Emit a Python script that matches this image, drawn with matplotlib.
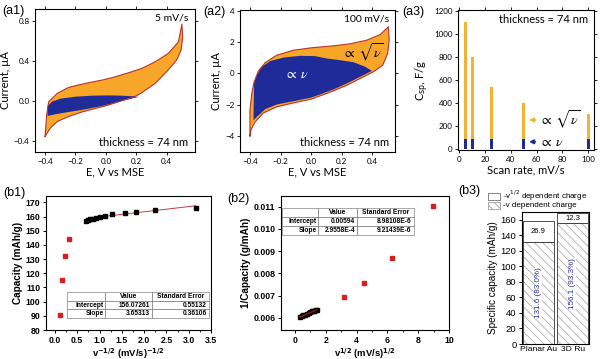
import numpy as np
import matplotlib
matplotlib.use("Agg")
import matplotlib.pyplot as plt
from matplotlib.patches import Rectangle

# ---- data ----

# (a1) CV at 5 mV/s: outer loop (upper then lower branch) and the blue region
a1_up_E = [-0.40, -0.388, -0.376, -0.32, -0.245, -0.136, -0.026, 0.04, 0.149, 0.236, 0.324, 0.41, 0.477, 0.50]
a1_up_I = [-0.355, -0.12, -0.007, 0.076, 0.136, 0.176, 0.209, 0.233, 0.282, 0.326, 0.392, 0.475, 0.591, 0.767]
a1_dn_E = [0.505, 0.495, 0.466, 0.41, 0.324, 0.236, 0.19, 0.105, 0.018, -0.07, -0.158, -0.245, -0.32, -0.365, -0.40]
a1_dn_I = [0.64, 0.51, 0.41, 0.31, 0.176, 0.083, 0.043, 0.003, -0.04, -0.075, -0.11, -0.155, -0.205, -0.27, -0.355]
a1_blue_E = [-0.383, -0.354, -0.30, -0.20, -0.092, 0.018, 0.105, 0.18, 0.214,
             0.149, 0.061, -0.026, -0.136, -0.245, -0.333, -0.383]
a1_blue_I = [-0.05, -0.007, 0.023, 0.043, 0.053, 0.056, 0.053, 0.047, 0.04,
             0.017, -0.017, -0.05, -0.083, -0.11, -0.133, -0.15]

# (a2) CV at 100 mV/s
a2_up_E = [-0.40, -0.40, -0.388, -0.373, -0.344, -0.30, -0.224, -0.115, 0.0, 0.146, 0.255, 0.364, 0.451, 0.505]
a2_up_I = [-4.0, -2.35, -1.28, -0.53, 0.17, 0.70, 1.17, 1.49, 1.64, 1.77, 1.90, 2.13, 2.49, 2.99]
a2_dn_E = [0.51, 0.50, 0.468, 0.407, 0.32, 0.233, 0.146, 0.059, 0.0, -0.115, -0.224, -0.312, -0.366, -0.394, -0.40]
a2_dn_I = [2.13, 1.28, 0.53, 0.11, -0.32, -0.75, -1.11, -1.43, -1.64, -1.88, -2.13, -2.52, -3.09, -3.62, -4.0]
a2_blue_E = [-0.377, -0.373, -0.355, -0.322, -0.268, -0.181, -0.072, 0.026, 0.102, 0.19, 0.277, 0.353, 0.397,
             0.32, 0.233, 0.146, 0.059, 0.0, -0.115, -0.224, -0.30, -0.355]
a2_blue_I = [-2.99, -0.64, -0.11, 0.43, 0.79, 1.02, 1.13, 1.11, 0.96, 0.85, 0.72, 0.43, 0.17,
             -0.21, -0.64, -1.02, -1.34, -1.54, -1.77, -1.98, -2.28, -2.77]

# (a3) specific capacitance vs scan rate
scan_rates = [5, 10, 25, 50, 100]
csp_total = [1100, 805, 540, 405, 310]
csp_nu = [90, 90, 90, 90, 90]

# (b1)/(b2) capacity vs scan rate (mV/s)
b_rates = np.array([0.1, 0.2, 0.3, 0.4, 0.6, 0.8, 1.0, 1.2, 1.4, 1.6, 1.8, 2.0, 10, 20, 40, 80])
b_capacity = np.array([166.0, 164.6, 163.4, 162.7, 161.5, 160.5, 159.8, 159.1, 158.6, 158.2, 157.7, 157.2,
                       144.0, 132.0, 115.0, 90.5])
b1_fit = [156.07261, 3.65313]
b2_fit = [0.00594, 2.9558e-4]
b1_table = [["Intercept", "156.07261", "0.55132"], ["Slope", "3.65313", "0.36106"]]
b2_table = [["Intercept", "0.00594", "8.98108E-6"], ["Slope", "2.9558E-4", "9.21439E-6"]]

# (b3) charge split
b3_names = ["Planar Au", "3D Ru"]
b3_nu = [131.6, 156.1]
b3_sqrt = [26.9, 12.3]
b3_pct = ["83.0%", "93.3%"]

ORANGE = '#F7A62A'
OUTLINE = '#B8332B'
BLUE = '#1E2B98'
A3_ORANGE = '#F2B233'
A3_BLUE = '#1F2E8C'
RED = '#D42020'
TXT_BLUE = '#2B2BA8'
FA = 'Lato'
FB = 'Liberation Sans'

plt.rcParams['font.family'] = [FB, 'DejaVu Sans']
plt.rcParams['hatch.linewidth'] = 0.5
fig = plt.figure(figsize=(6, 3.59), dpi=100)


def pos(l, t, r, b):
    return [l / 600, 1 - b / 359, (r - l) / 600, (b - t) / 359]


def style_a(ax):
    ax.tick_params(direction='out', length=2.5, width=0.6, labelsize=5.8, labelfontfamily=FA,
                   top=True, right=True, pad=1.5)
    for s in ax.spines.values():
        s.set_linewidth(0.8)


def style_b(ax):
    ax.tick_params(direction='out', length=2.5, width=0.7, pad=1.5)
    ax.tick_params(which='minor', direction='out', length=1.5, width=0.6)
    for s in ax.spines.values():
        s.set_linewidth(0.8)


def cv_panel(box, up_E, up_I, dn_E, dn_I, bl_E, bl_I, rate):
    ax = fig.add_axes(pos(*box))
    ax.fill(up_E + dn_E, up_I + dn_I, facecolor=ORANGE, edgecolor='none')
    ax.fill(bl_E, bl_I, facecolor=BLUE, edgecolor='none')
    ax.plot(up_E + dn_E, up_I + dn_I, color=OUTLINE, lw=0.8)
    ax.set_xticks([-0.4, -0.2, 0.0, 0.2, 0.4])
    ax.set_xlabel("E, V vs MSE", fontsize=8, fontfamily=FA, labelpad=1)
    ax.set_ylabel("Current, \u00b5A", fontsize=8, fontfamily=FA, labelpad=2)
    ax.text(0.96, 0.97, rate, transform=ax.transAxes, ha='right', va='top', fontsize=7.5, fontfamily=FA)
    ax.text(0.96, 0.03, "thickness = 74 nm", transform=ax.transAxes, ha='right', va='bottom',
            fontsize=8, fontfamily=FA)
    style_a(ax)
    return ax


# (a1)
ax = cv_panel((35, 9, 195, 152), a1_up_E, a1_up_I, a1_dn_E, a1_dn_I, a1_blue_E, a1_blue_I, "5 mV/s")
ax.set_xlim(-0.466, 0.586)
ax.set_ylim(-0.51, 0.92)
ax.set_yticks([-0.4, 0.0, 0.4, 0.8])

# (a2)
ax = cv_panel((240, 10, 395, 152), a2_up_E, a2_up_I, a2_dn_E, a2_dn_I, a2_blue_E, a2_blue_I, "100 mV/s")
ax.set_xlim(-0.465, 0.548)
ax.set_ylim(-5.02, 4.06)
ax.set_yticks([-4, -2, 0, 2, 4])
ax.text(0.2, 1.3, r"$\propto\ \sqrt{\nu}$", fontsize=10, math_fontfamily='stix', va='center')
ax.text(-0.18, -0.05, r"$\propto\ \nu$", fontsize=10, math_fontfamily='stix', va='center', color='white')

# (a3)
ax = fig.add_axes(pos(458, 10, 594, 150))
ax.bar(scan_rates, csp_nu, width=2.3, color=A3_BLUE)
ax.bar(scan_rates, np.subtract(csp_total, csp_nu), bottom=csp_nu, width=2.3, color=A3_ORANGE)
ax.set_xlim(-1, 104.6)
ax.set_ylim(-5, 1208)
ax.set_xticks([0, 20, 40, 60, 80, 100])
ax.set_yticks([0, 200, 400, 600, 800, 1000, 1200])
ax.set_xlabel("Scan rate, mV/s", fontsize=8, fontfamily=FA, labelpad=1)
ax.set_ylabel(r"C$_{\mathrm{sp}}$, F/g", fontsize=8, fontfamily=FA, labelpad=2)
ax.text(0.96, 0.97, "thickness = 74 nm", transform=ax.transAxes, ha='right', va='top', fontsize=8, fontfamily=FA)
ax.annotate("", xy=(52, 255), xytext=(61, 255),
            arrowprops=dict(arrowstyle='-|>', color=A3_ORANGE, lw=1.3, mutation_scale=6))
ax.text(62, 255, r"$\propto\ \sqrt{\nu}$", fontsize=10, math_fontfamily='stix', va='center')
ax.annotate("", xy=(52, 66), xytext=(61, 66),
            arrowprops=dict(arrowstyle='-|>', color=A3_BLUE, lw=1.3, mutation_scale=6))
ax.text(62, 66, r"$\propto\ \nu$", fontsize=10, math_fontfamily='stix', va='center')
style_a(ax)


def fit_table(ax, rows, bbox, widths):
    tb = ax.table(cellText=rows, colLabels=["", "Value", "Standard Error"], colWidths=widths,
                  cellLoc='right', colLoc='center', bbox=bbox)
    tb.auto_set_font_size(False)
    tb.set_fontsize(4.8)
    for (r, c), cell in tb.get_celld().items():
        cell.set_linewidth(0.4)
        cell.set_edgecolor('#666666')
        cell.get_text().set_fontweight('bold')
        cell.PAD = 0.04
        if c == 0 and r > 0:
            cell._loc = 'left'
    return tb


fit = b_rates <= 2
# (b1)
ax = fig.add_axes(pos(46, 196, 211, 330))
x1 = b_rates ** -0.5
xl = np.array([x1[fit].min(), x1[fit].max()])
ax.plot(xl, b1_fit[0] + b1_fit[1] * xl, color='#C84040', lw=0.7)
ax.plot(x1[fit], b_capacity[fit], 's', color='black', ms=2.2)
ax.plot(x1[~fit], b_capacity[~fit], 's', color=RED, ms=2.2)
ax.set_xlim(-0.2, 3.5)
ax.set_ylim(80, 174.5)
xt = np.arange(0, 3.51, 0.5)
ax.set_xticks(xt, [f"{v:.1f}" for v in xt], fontsize=6.3, fontweight='bold')
ax.set_xticks(np.arange(0.25, 3.5, 0.5), minor=True)
yt = np.arange(80, 171, 10)
ax.set_yticks(yt, [str(v) for v in yt], fontsize=6.3, fontweight='bold')
ax.set_ylabel("Capacity (mAh/g)", fontsize=7.2, fontweight='bold', labelpad=2)
ax.set_xlabel(r"v$^{\mathbf{-1/2}}$ (mV/s)$^{\mathbf{-1/2}}$", fontsize=6.8, fontweight='bold', labelpad=1)
fit_table(ax, b1_table, [0.125, 0.087, 0.863, 0.199], [0.27, 0.33, 0.40])
style_b(ax)

# (b2)
ax = fig.add_axes(pos(281, 196, 449, 330))
x2 = b_rates ** 0.5
y2 = 1 / b_capacity
xl = np.array([x2[fit].min(), x2[fit].max()])
ax.plot(x2[fit], y2[fit], 's', color='black', ms=2.2)
ax.plot(xl, b2_fit[0] + b2_fit[1] * xl, color='#8B1A1A', lw=1.0)
ax.plot(x2[~fit], y2[~fit], 's', color=RED, ms=2.2)
ax.set_xlim(-0.9, 10)
ax.set_ylim(0.00545, 0.01148)
xt = np.arange(0, 11, 2)
ax.set_xticks(xt, [str(v) for v in xt], fontsize=6.3, fontweight='bold')
ax.set_xticks(np.arange(1, 10, 2), minor=True)
yt = [0.006, 0.007, 0.008, 0.009, 0.010, 0.011]
ax.set_yticks(yt, [f"{v:.3f}" for v in yt], fontsize=6.3, fontweight='bold')
ax.set_ylabel("1/Capacity (g/mAh)", fontsize=7.2, fontweight='bold', labelpad=2)
ax.set_xlabel(r"v$^{\mathbf{1/2}}$ (mV/s)$^{\mathbf{1/2}}$", fontsize=6.8, fontweight='bold', labelpad=1)
fit_table(ax, b2_table, [0.004, 0.709, 0.786, 0.199], [0.277, 0.29, 0.433])
style_b(ax)

# (b3)
ax = fig.add_axes(pos(522, 212, 589, 344))
xb = np.arange(len(b3_names))
ax.bar(xb, b3_nu, width=0.9, color='white', edgecolor='#A0A0A0', lw=0, hatch='\\\\\\\\')
ax.bar(xb, b3_nu, width=0.9, fill=False, edgecolor='#333333', lw=0.6)
ax.bar(xb, b3_sqrt, bottom=b3_nu, width=0.9, color='white', edgecolor='#333333', lw=0.6)
for i in xb:
    ax.text(i, b3_nu[i] + b3_sqrt[i] / 2, f"{b3_sqrt[i]}", ha='center', va='center', fontsize=5.5)
    ax.text(i, b3_nu[i] * 0.5, f"{b3_nu[i]} ({b3_pct[i]})", rotation=90, ha='center', va='center',
            fontsize=5.8, color=TXT_BLUE, bbox=dict(facecolor='white', edgecolor='none', pad=0.3))
ax.set_xlim(-0.48, 1.48)
ax.set_ylim(0, 170)
ax.set_xticks(xb, b3_names, fontsize=6.1)
ax.set_yticks(np.arange(0, 161, 20))
ax.tick_params(axis='y', labelsize=6.8)
ax.set_ylabel("Specific capacity (mAh/g)", fontsize=7.2, labelpad=2)
style_b(ax)
ax.tick_params(axis='x', length=0, pad=1.5)

# legend of (b3)
fig.patches.append(Rectangle((488 / 600, 1 - 200 / 359), 12 / 600, 7 / 359, transform=fig.transFigure,
                             facecolor='white', edgecolor='#555555', lw=0.5))
fig.patches.append(Rectangle((488 / 600, 1 - 209 / 359), 12 / 600, 7 / 359, transform=fig.transFigure,
                             facecolor='white', edgecolor='#8A8A8A', lw=0.5, hatch='\\\\\\\\'))
fig.text(503 / 600, 1 - 196 / 359, r"-v$^{1/2}$ dependent charge", fontsize=5.8, va='center')
fig.text(503 / 600, 1 - 205.5 / 359, "-v dependent charge", fontsize=5.8, va='center')

# panel labels
for lab, x, y in [("(a1)", 2, 11), ("(a2)", 203, 12), ("(a3)", 402, 12),
                  ("(b1)", 3, 193), ("(b2)", 227, 199), ("(b3)", 458, 191)]:
    fig.text(x / 600, 1 - y / 359, lab, fontsize=9, va='center', ha='left')

fig.savefig("out.png", dpi=100)
